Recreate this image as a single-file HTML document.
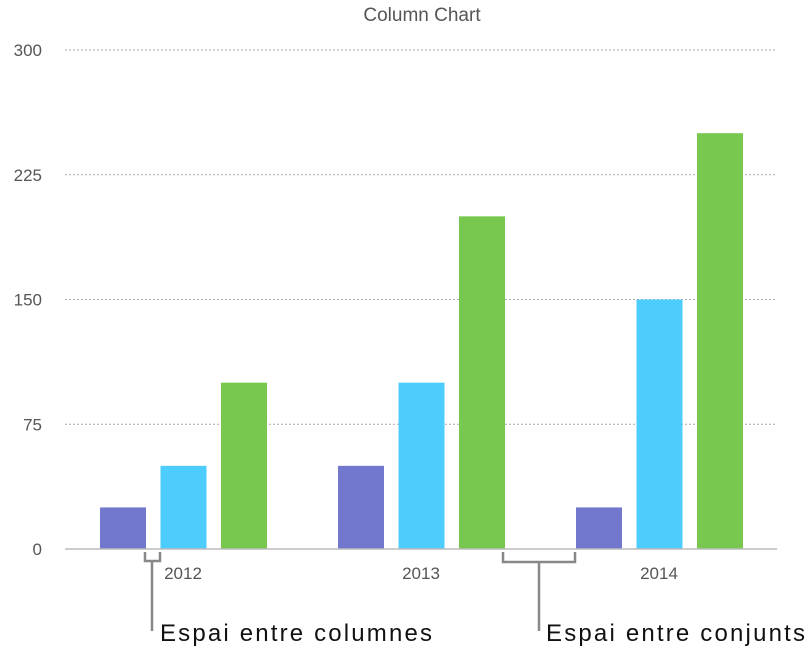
<!DOCTYPE html>
<html><head><meta charset="utf-8"><style>
html,body{margin:0;padding:0;background:#fff}
svg{display:block;font-family:"Liberation Sans",sans-serif}
</style></head><body>
<svg id="chart" width="811" height="654">
<text x="422" y="21" text-anchor="middle" font-size="19" fill="#555">Column Chart</text>
<g id="grid"></g><g id="bars"></g><g id="xlabels"></g>
<line x1="65" y1="549" x2="777" y2="549" stroke="#bbb" stroke-width="1.5"/>
<path d="M145,552 V561 H160 V552 M152,561 V631" fill="none" stroke="#888" stroke-width="2.5"/>
<path d="M503,552 V562 H575 V552 M539,562 V631" fill="none" stroke="#888" stroke-width="2.5"/>
<text x="160" y="641" font-size="24" fill="#111" textLength="272">Espai entre columnes</text>
<text x="546" y="641" font-size="24" fill="#111" textLength="259">Espai entre conjunts</text>
</svg>
<script>
const categories=["2012","2013","2014"];
const series1=[25,50,25];
const series2=[50,100,150];
const series3=[100,200,250];
const yTicks=[0,75,150,225,300];
const NS="http://www.w3.org/2000/svg";
const y=v=>549-v*(499/300);
const groupStart=[100,338,576];
const colors=["#7278cd","#4dcdfd","#78c850"];
const allSeries=[series1,series2,series3];
function mk(t,a,p){const e=document.createElementNS(NS,t);for(const k in a)e.setAttribute(k,a[k]);p.appendChild(e);return e;}
const grid=document.getElementById("grid");
yTicks.forEach(t=>{
  if(t>0){const l=mk("line",{x1:65,x2:777,y1:y(t),y2:y(t),stroke:"#aaa","stroke-dasharray":"2,2"},grid);
  
  }
  const tx=mk("text",{x:42,y:y(t)+6,"text-anchor":"end","font-size":17,fill:"#555"},grid);
  tx.textContent=t;
  
  
});
const bars=document.getElementById("bars");
categories.forEach((c,i)=>{
  allSeries.forEach((s,j)=>{
    const x=groupStart[i]+j*60.5;
    const r=mk("rect",{x:x,y:y(s[i]),width:46,height:549-y(s[i]),fill:colors[j]},bars);
    
    
  });
  const t=mk("text",{x:groupStart[i]+83,y:579,"text-anchor":"middle","font-size":17,fill:"#555"},document.getElementById("xlabels"));
  t.textContent=c;
  
  
});
</script>
</body></html>
